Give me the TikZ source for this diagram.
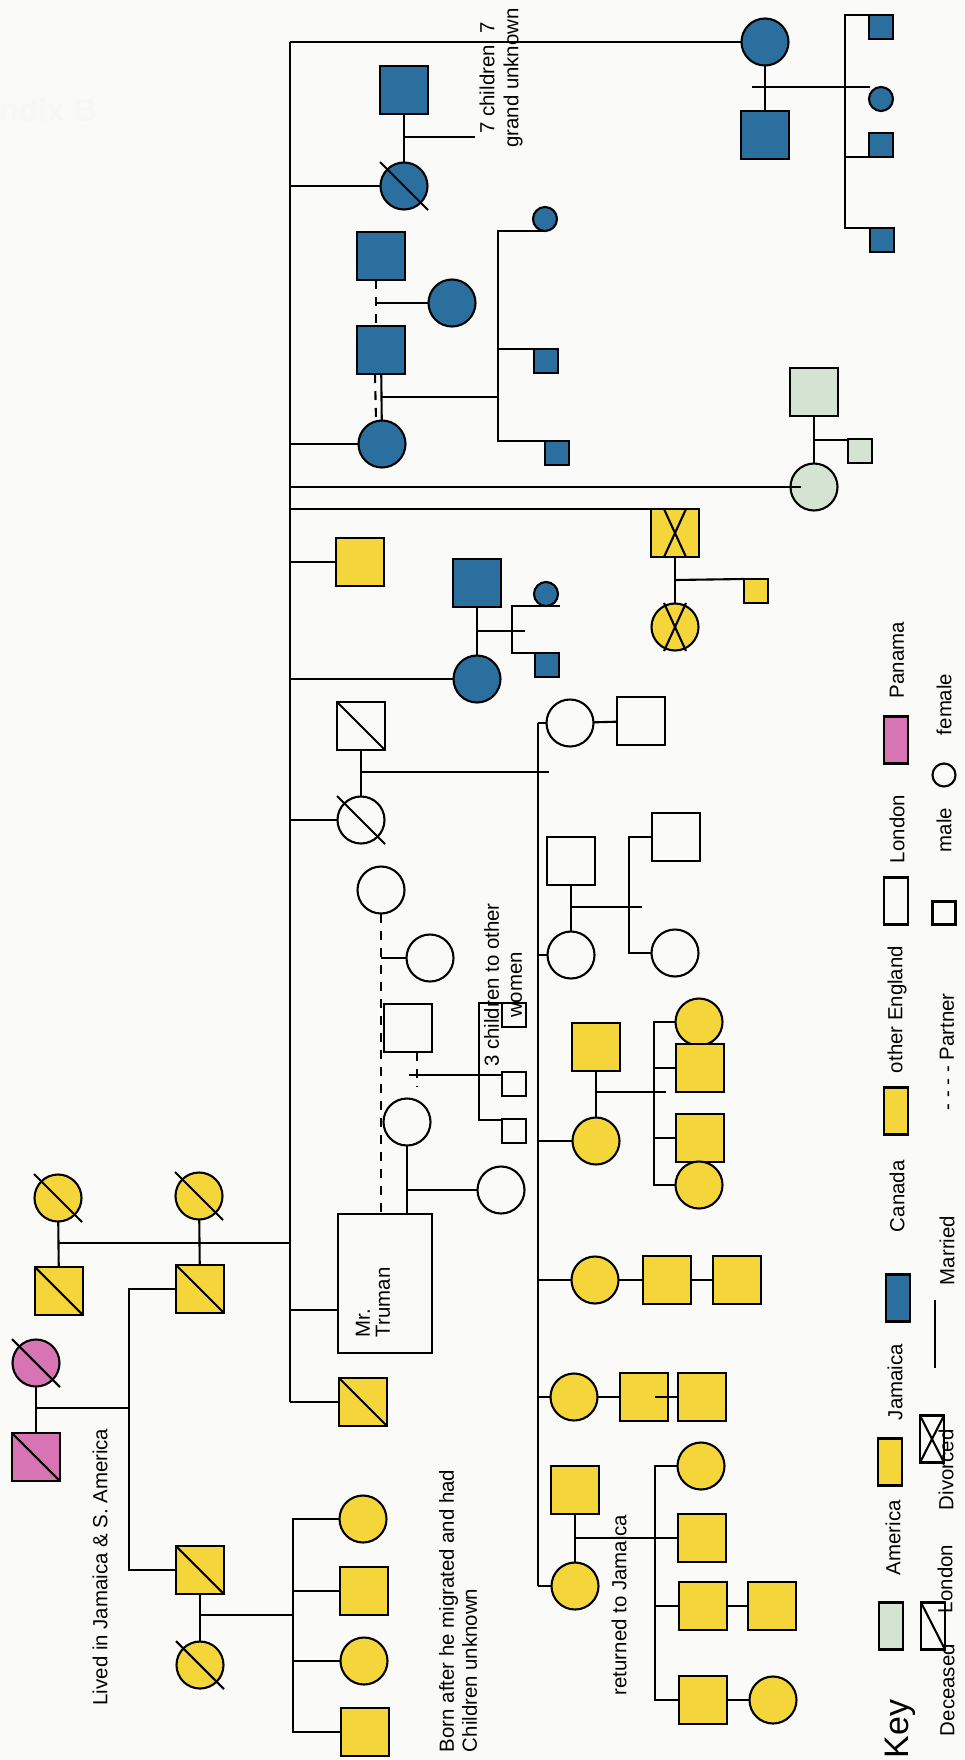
\documentclass[tikz,border=0pt]{standalone}
\usepackage{fontspec}
\setmainfont{Liberation Sans}
\usetikzlibrary{calc}
\definecolor{cblue}{HTML}{2A6F9E}
\definecolor{cyel}{HTML}{F5D63A}
\definecolor{cgreen}{HTML}{D5E3D3}
\definecolor{cpink}{HTML}{D674B4}
\definecolor{bgc}{HTML}{FAFAF8}
\newcommand\DeadMark[1]{\draw ($(#1.center)+(-24,-24)$) -- ($(#1.center)+(24,24)$);}
\newcommand\DivMark[1]{\draw ($(#1.center)+(-11,-24)$) -- ($(#1.center)+(11,24)$) ($(#1.center)+(11,-24)$) -- ($(#1.center)+(-11,24)$);}
\begin{document}
\begin{tikzpicture}[x=0.5pt,y=-0.5pt,line width=1.05pt,
  every node/.style={inner sep=0pt,outer sep=0pt},
  sq/.style={draw,rectangle,minimum size=24pt,fill=bgc},
  ci/.style={draw,circle,minimum size=23.5pt,fill=bgc},
  ssq/.style={draw,rectangle,minimum size=12pt,fill=bgc},
  sci/.style={draw,circle,minimum size=12pt,fill=bgc},
  lg/.style={draw,rectangle,minimum width=12pt,minimum height=23.5pt,fill=bgc},
  pdash/.style={dash pattern=on 4.5pt off 4pt},
  lbl/.style={rotate=90,font=\fontsize{10.2}{11.5}\selectfont,align=center},
  klbl/.style={rotate=90,font=\fontsize{10.2}{11.5}\selectfont,anchor=west}]
\fill[bgc] (0,0) rectangle (964,1760);
\useasboundingbox (0,0) rectangle (964,1760);
\node[anchor=east,text=black!3,font=\bfseries\fontsize{16}{16}\selectfont] (ghost) at (97,110) {ndix B};

% spine
\coordinate (sT) at (290,42);
\coordinate (sB) at (290,1402);

% ---- top right blue family
\node[ci,fill=cblue] (b1) at (765,42) {};
\node[sq,fill=cblue] (b2) at (765,135) {};
\node[ssq,fill=cblue] (b3) at (881,27) {};
\node[sci,fill=cblue] (b4) at (881,99) {};
\node[ssq,fill=cblue] (b5) at (881,145) {};
\node[ssq,fill=cblue] (b6) at (882,240) {};
\coordinate (k1) at (752,87);
\coordinate (k1e) at (870,87);
\coordinate (k2t) at (845,15);
\coordinate (k2b) at (845,228);

% ---- blue family 2
\node[sq,fill=cblue] (b7) at (404,90) {};
\node[ci,fill=cblue] (b8) at (404,186) {};
\DeadMark{b8}
\coordinate (k3) at (404,137);
\coordinate (k3e) at (475,137);

% ---- blue family 3
\node[sq,fill=cblue] (b9) at (381,256) {};
\node[ci,fill=cblue] (b10) at (452,303) {};
\node[sq,fill=cblue] (b11) at (381,350) {};
\node[ci,fill=cblue] (b12) at (382,444) {};
\coordinate (d1) at (376,303);
\coordinate (k4) at (382,397);
\coordinate (k5t) at (498,231);
\coordinate (k5b) at (498,441);
\node[sci,fill=cblue] (b13) at (545,219) {};
\node[ssq,fill=cblue] (b14) at (546,361) {};
\node[ssq,fill=cblue] (b15) at (557,453) {};

% ---- green family
\node[sq,fill=cgreen] (g1) at (814,392) {};
\node[ci,fill=cgreen] (g2) at (814,487) {};
\node[ssq,fill=cgreen] (g3) at (860,451) {};
\coordinate (k6) at (814,440);

% ---- yellow divorced
\node[sq,fill=cyel] (y1) at (675,533) {};
\DivMark{y1}
\node[ci,fill=cyel] (y2) at (675,627) {};
\DivMark{y2}
\node[ssq,fill=cyel] (y3) at (756,591) {};
\coordinate (k7) at (675,580);

% ---- yellow single
\node[sq,fill=cyel] (y4) at (360,562) {};

% ---- blue family 4
\node[sq,fill=cblue] (b16) at (477,583) {};
\node[ci,fill=cblue] (b17) at (477,679) {};
\node[sci,fill=cblue] (b18) at (546,594) {};
\node[ssq,fill=cblue] (b19) at (547,665) {};
\coordinate (k8) at (477,631);
\coordinate (k8e) at (525,631);
\coordinate (k9t) at (512,606);
\coordinate (k9e) at (560,606);

% ---- white (London) family
\node[sq] (w1) at (361,726) {};
\DeadMark{w1}
\node[ci] (w2) at (361,820) {};
\DeadMark{w2}
\coordinate (k10) at (361,772);
\coordinate (k10e) at (549,772);
\coordinate (cv) at (538,723);
\coordinate (cvb) at (538,1586);
\node[ci] (w3) at (570,723) {};
\node[sq] (w4) at (641,721) {};
\node[sq] (w5) at (571,861) {};
\node[ci] (w6) at (571,955) {};
\coordinate (k11) at (571,907);
\coordinate (k11e) at (642,907);
\node[sq] (w7) at (676,837) {};
\node[ci] (w8) at (675,953) {};
\coordinate (k12t) at (629,837);

% ---- yellow family 2
\node[sq,fill=cyel] (y5) at (596,1047) {};
\node[ci,fill=cyel] (y6) at (596,1141) {};
\coordinate (k13) at (596,1092);
\coordinate (k13e) at (666,1092);
\node[ci,fill=cyel] (y7) at (699,1022) {};
\node[sq,fill=cyel] (y8) at (700,1068) {};
\node[sq,fill=cyel] (y9) at (700,1138) {};
\node[ci,fill=cyel] (y10) at (699,1185) {};
\coordinate (k14t) at (654,1022);

% ---- yellow family 3
\node[ci,fill=cyel] (y11) at (595,1280) {};
\node[sq,fill=cyel] (y12) at (667,1280) {};
\node[sq,fill=cyel] (y13) at (737,1280) {};

% ---- yellow family 4
\node[ci,fill=cyel] (y14) at (574,1397) {};
\node[sq,fill=cyel] (y15) at (644,1397) {};
\node[sq,fill=cyel] (y16) at (702,1397) {};

% ---- yellow family 5
\node[sq,fill=cyel] (y17) at (575,1490) {};
\node[ci,fill=cyel] (y18) at (575,1586) {};
\coordinate (k15) at (575,1538);
\coordinate (k16t) at (655,1466);
\coordinate (k16b) at (655,1700);
\node[ci,fill=cyel] (y19) at (701,1466) {};
\node[sq,fill=cyel] (y20) at (702,1538) {};
\node[sq,fill=cyel] (y21) at (703,1606) {};
\node[sq,fill=cyel] (y22) at (772,1606) {};
\node[sq,fill=cyel] (y23) at (703,1700) {};
\node[ci,fill=cyel] (y24) at (773,1700) {};

% ---- Truman area
\node[ci] (w9) at (381,890) {};
\node[ci] (w10) at (430,958) {};
\node[sq] (w11) at (408,1028) {};
\node[ci] (w12) at (407,1122) {};
\node[ci] (w13) at (501,1190) {};
\node[draw,fill=bgc,minimum width=47pt,minimum height=69.5pt] (tru) at (385,1283.5) {};
\node[lbl,anchor=west,align=left,font=\fontsize{10.2}{10}\selectfont] (trutxt) at (373,1337) {Mr.\\Truman};
\coordinate (k17) at (417,1087);
\coordinate (k18) at (409,1075);
\coordinate (k19) at (479,1003);
\coordinate (k19b) at (479,1120);
\node[ssq] (s1) at (514,1015) {};
\node[ssq] (s2) at (514,1084) {};
\node[ssq] (s3) at (514,1131) {};
\coordinate (k20) at (407,1190);
\coordinate (k21) at (290,1310);
\node[sq,fill=cyel] (y25) at (363,1402) {};
\DeadMark{y25}

% ---- ancestors
\node[ci,fill=cyel] (a1) at (58,1198) {};
\DeadMark{a1}
\node[sq,fill=cyel] (a2) at (59,1291) {};
\DeadMark{a2}
\node[ci,fill=cyel] (a3) at (199,1196) {};
\DeadMark{a3}
\node[sq,fill=cyel] (a4) at (200,1289) {};
\DeadMark{a4}
\node[ci,fill=cpink] (a5) at (36,1363) {};
\DeadMark{a5}
\node[sq,fill=cpink] (a6) at (36,1457) {};
\DeadMark{a6}
\node[sq,fill=cyel] (a7) at (200,1570) {};
\DeadMark{a7}
\node[ci,fill=cyel] (a8) at (200,1665) {};
\DeadMark{a8}
\coordinate (k22) at (58,1243);
\coordinate (k23) at (129,1289);
\coordinate (k23b) at (129,1570);
\coordinate (k24) at (36,1408);
\coordinate (k25) at (200,1615);
\coordinate (k26t) at (293,1519);
\coordinate (k26b) at (293,1732);
\node[ci,fill=cyel] (c1) at (363,1519) {};
\node[sq,fill=cyel] (c2) at (364,1591) {};
\node[ci,fill=cyel] (c3) at (364,1661) {};
\node[sq,fill=cyel] (c4) at (365,1732) {};

% ================= connectors
\draw (sT) -- (sB);
\draw (sT) -- (b1);
\draw (b1) -- (b2);
\draw (k1) -- (k1e);
\draw (b3.north west) -- (k2t) -- (k2b) -- (b6.north west);
\draw (b5.south west) -- (k2t |- b5.south west);

\draw (b7) -- (b8);
\draw (k3) -- (k3e);
\draw (sT |- b8) -- (b8);

\draw[pdash] ([xshift=-2.5pt]b9.south) -- ([xshift=-2.5pt]b11.north);
\draw (d1) -- (b10);
\draw (b11) -- (b12);
\draw[pdash] ([xshift=-3pt]b11.south) -- ([xshift=-3pt]b12.north);
\draw (k4) -- (k5t |- k4);
\draw (b13.south) -- (k5t) -- (k5b) -- (b15.north west);
\draw (b14.north west) -- (k5t |- b14.north west);
\draw (sT |- b12) -- (b12);

\draw (g1) -- (g2);
\draw (k6) -- (g3.west |- k6);
\draw (sT |- g2) -- ([xshift=5pt]g2.west);

\draw (y1) -- (y2);
\draw (k7) -- (y3.north west);
\draw (sT |- y1.north) -- (y1.north west);

\draw (sT |- y4) -- (y4);

\draw (b16) -- (b17);
\draw (k8) -- (k8e);
\draw (k9e) -- (k9t) -- (k9t |- b19.north) -- (b19.north west);
\draw (sT |- b17) -- (b17);

\draw (w1) -- (w2);
\draw (k10) -- (k10e);
\draw (sT |- w2) -- (w2);
\draw (cv) -- (cvb);
\draw (cv) -- (w3);
\draw (w3) -- (w4);
\draw (w5) -- (w6);
\draw (k11) -- (k11e);
\draw (cv |- w6) -- (w6);
\draw (w7) -- (k12t) -- (k12t |- w8) -- (w8);

\draw (y5) -- (y6);
\draw (k13) -- (k13e);
\draw (cv |- y6) -- (y6);
\draw (y7) -- (k14t) -- (k14t |- y10) -- (y10);
\draw (k14t |- y8) -- (y8);
\draw (k14t |- y9) -- (y9);

\draw (cv |- y11) -- (y11);
\draw (y11) -- (y12);
\draw (y12) -- (y13);

\draw (cv |- y14) -- (y14);
\draw (y14) -- (y15);
\draw ([xshift=5.5pt]y15.center) -- (y16);

\draw (y17) -- (y18);
\draw (k15) -- (y20);
\draw (y19) -- (k16t) -- (k16b) -- (y23);
\draw (k16t |- y21) -- (y21);
\draw (y21) -- (y22);
\draw (y23) -- (y24);
\draw (cvb) -- (y18);

\draw[pdash] (w9.south) -- (w9.south |- tru.north);
\draw (w9.south |- w10) -- (w10);
\draw[pdash] (w11.south -| k17) -- (k17);
\draw (k18) -- (s2.west |- k18);
\draw (s1.north west) -- (k19) -- (k19b) -- (s3.west |- k19b);
\draw (w12) -- (w12 |- tru.north);
\draw (k20) -- (w13);
\draw (k21) -- (k21 -| tru.west);
\draw (sB) -- (y25);

\draw (a1) -- (a2);
\draw (a3) -- (a4);
\draw (k22) -- (sT |- k22);
\draw (a4) -- (k23) -- (k23b) -- (a7);
\draw (a5) -- (a6);
\draw (k24) -- (k23 |- k24);
\draw (a7) -- (a8);
\draw (k25) -- (k26t |- k25);
\draw (c1) -- (k26t) -- (k26b) -- (c4);
\draw (k26t |- c2) -- (c2);
\draw (k26t |- c3) -- (c3);

% ================= texts
\node[lbl,font=\fontsize{10.2}{12}\selectfont] (t1) at (501,78) {7 children, 7\\grand unknown};
\node[lbl] (t2) at (503,985) {3 children to other\\women};
\node[lbl] (t3) at (619,1605) {returned to Jamaica};
\node[lbl] (t4) at (100,1567) {Lived in Jamaica \& S. America};
\node[lbl,anchor=west,align=left] (t5) at (458,1752) {Born after he migrated and had\\Children unknown};

% ================= legend
\node[rotate=90,anchor=west,font=\fontsize{17}{17}\selectfont] (key) at (900,1758) {Key};
\node[lg,fill=cgreen] (L1) at (891,1626) {};
\node[klbl] (L1t) at (893,1575) {America};
\node[lg,fill=cyel] (L2) at (890,1462) {};
\node[klbl] (L2t) at (895,1420) {Jamaica};
\node[lg,fill=cblue] (L3) at (898,1298) {};
\node[klbl] (L3t) at (897,1232) {Canada};
\node[lg,fill=cyel] (L4) at (896,1111) {};
\node[klbl] (L4t) at (897,1073) {other England};
\node[lg] (L5) at (896,901) {};
\node[klbl] (L5t) at (897,863) {London};
\node[lg,fill=cpink] (L6) at (896,740) {};
\node[klbl] (L6t) at (897,698) {Panama};

\node[klbl] (M1t) at (947,1736) {Deceased};
\node[lg] (M1) at (933,1626) {};
\draw (M1.north west) -- (M1.south east);
\node[klbl] (M2t) at (945,1613) {London};
\node[lg] (M3) at (932,1439) {};
\draw (M3.north west) -- (M3.south east) (M3.north east) -- (M3.south west);
\node[klbl] (M3t) at (946,1510) {Divorced};
\coordinate (ML1) at (935,1368);
\coordinate (ML2) at (935,1300);
\draw (ML1) -- (ML2);
\node[klbl] (M4t) at (947,1285) {Married};
\node[klbl] (M5t) at (947,1110) {- - - - Partner};
\node[draw,rectangle,minimum size=11.5pt,fill=bgc] (M6) at (944,913) {};
\node[klbl] (M6t) at (944,852) {male};
\node[draw,circle,minimum size=11.5pt,fill=bgc] (M7) at (944,775) {};
\node[klbl] (M7t) at (944,735) {female};
\end{tikzpicture}
\end{document}
